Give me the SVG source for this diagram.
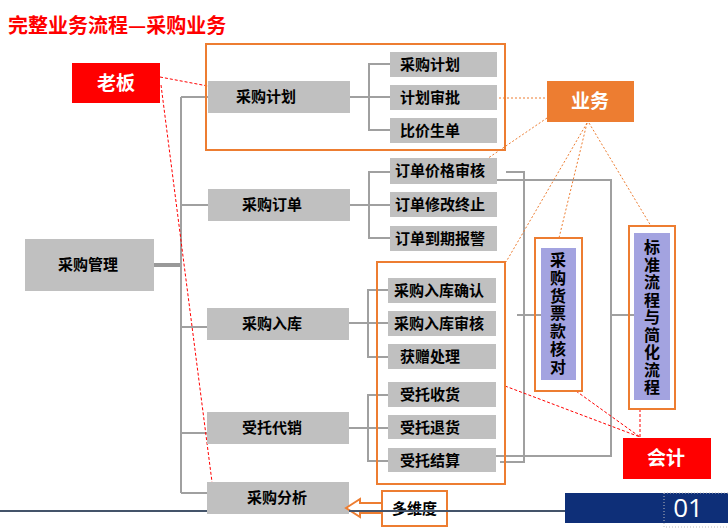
<svg xmlns="http://www.w3.org/2000/svg" width="728" height="529" viewBox="0 0 728 529">
<style>
.g{fill:#C0C0C0}
.t{font-family:"Noto Sans CJK SC","Liberation Sans",sans-serif;font-weight:bold;font-size:15px;fill:#000}
.tm{text-anchor:middle}
.w{font-family:"Noto Sans CJK SC","Liberation Sans",sans-serif;font-weight:bold;font-size:19px;fill:#fff;text-anchor:middle}
.v{font-family:"Noto Sans CJK SC","Liberation Sans",sans-serif;font-weight:bold;font-size:16px;fill:#000;writing-mode:vertical-rl}
.ob{fill:none;stroke:#ED7D31;stroke-width:2}
.ln{fill:none;stroke:#A0A0A0;stroke-width:2}
.od{fill:none;stroke:#ED7D31;stroke-width:1;stroke-dasharray:2 2}
.rd{fill:none;stroke:#FF0000;stroke-width:1;stroke-dasharray:3 2}
.pu{fill:#A3A3E0}
</style>
<rect width="728" height="529" fill="#fff"/>
<text x="8" y="33" font-family="'Noto Sans CJK SC','Liberation Sans',sans-serif" font-weight="bold" font-size="20" fill="#FF0000">完整业务流程—采购业务</text>

<g id="connectors">
  <line x1="154" y1="265" x2="182" y2="265" stroke="#999" stroke-width="4"/>
  <path class="ln" d="M181 97V493" stroke="#999" stroke-width="2.5"/>
  <path class="ln" d="M181 97H208M181 205H208M181 327H207M181 433H207M181 493H207"/>
  <path class="ln" d="M350 97H369M390 64H369V130H390M369 97H390"/>
  <path class="ln" d="M350 205H369M390 172H369V238H390M369 205H390"/>
  <path class="ln" d="M349 323H368M388 290H368V357H388M368 323H388"/>
  <path class="ln" d="M349 428H368M388 395H368V461H388M368 428H388"/>
  <path class="ln" d="M506 172H524V462H500"/>
  <path class="ln" d="M497 180H611V456H496"/>
  <path class="ln" d="M517 315H541"/>
  <path class="ln" d="M611 315H634"/>
  <path class="od" d="M499 98H547"/>
  <path class="od" d="M547 118L478 165"/>
  <path class="od" d="M587 123L506 262"/>
  <path class="od" d="M587 123L559 238"/>
  <path class="od" d="M589 123L651 226"/>
  <path class="rd" d="M160 77L213 87"/>
  <path class="rd" d="M161 85L212 482"/>
  <path class="rd" d="M505 386L640 437"/>
  <path class="rd" d="M576 391L640 437"/>
  <path class="rd" d="M640 409V437"/>
</g>

<g id="boss"><rect x="72" y="63" width="88" height="40" fill="#FF0000"/><text class="w" x="116" y="90">老板</text></g>
<g id="business"><rect x="547" y="81" width="87" height="41" fill="#ED7D31"/><text class="w" x="590" y="108">业务</text></g>
<g id="accounting"><rect x="623" y="438" width="88" height="41" fill="#FF0000"/><text class="w" x="666" y="465">会计</text></g>

<g id="plan-frame"><rect class="ob" x="206" y="44" width="299" height="106"/></g>
<g id="stock-frame"><rect class="ob" x="377" y="262" width="128" height="222"/></g>

<g id="root"><rect class="g" x="25" y="239" width="129" height="52"/><text class="t tm" x="88" y="270">采购管理</text></g>
<g id="n-plan"><rect class="g" x="208" y="81" width="142" height="32"/><text class="t tm" x="266" y="102">采购计划</text></g>
<g id="n-order"><rect class="g" x="208" y="189" width="142" height="32"/><text class="t tm" x="272" y="210">采购订单</text></g>
<g id="n-stock"><rect class="g" x="207" y="308" width="142" height="32"/><text class="t tm" x="272" y="329">采购入库</text></g>
<g id="n-consign"><rect class="g" x="207" y="412" width="142" height="32"/><text class="t tm" x="272" y="433">受托代销</text></g>
<g id="n-analysis"><rect class="g" x="207" y="482" width="142" height="32"/><text class="t tm" x="277" y="503">采购分析</text></g>

<g id="s-plan1"><rect class="g" x="390" y="52" width="107" height="25"/><text class="t" x="400" y="70">采购计划</text></g>
<g id="s-plan2"><rect class="g" x="390" y="85" width="107" height="25"/><text class="t" x="400" y="103">计划审批</text></g>
<g id="s-plan3"><rect class="g" x="390" y="118" width="107" height="25"/><text class="t" x="400" y="136">比价生单</text></g>
<g id="s-order1"><rect class="g" x="390" y="158" width="107" height="26"/><text class="t" x="395" y="176">订单价格审核</text></g>
<g id="s-order2"><rect class="g" x="390" y="192" width="107" height="25"/><text class="t" x="395" y="210">订单修改终止</text></g>
<g id="s-order3"><rect class="g" x="390" y="226" width="107" height="25"/><text class="t" x="395" y="244">订单到期报警</text></g>
<g id="s-stock1"><rect class="g" x="388" y="278" width="108" height="25"/><text class="t" x="394" y="296">采购入库确认</text></g>
<g id="s-stock2"><rect class="g" x="388" y="311" width="108" height="25"/><text class="t" x="394" y="329">采购入库审核</text></g>
<g id="s-stock3"><rect class="g" x="388" y="344" width="108" height="25"/><text class="t" x="400" y="362">获赠处理</text></g>
<g id="s-cons1"><rect class="g" x="388" y="382" width="108" height="25"/><text class="t" x="400" y="400">受托收货</text></g>
<g id="s-cons2"><rect class="g" x="388" y="415" width="108" height="24"/><text class="t" x="400" y="433">受托退货</text></g>
<g id="s-cons3"><rect class="g" x="388" y="448" width="108" height="24"/><text class="t" x="400" y="466">受托结算</text></g>

<g id="invoice">
  <rect class="ob" x="535" y="238" width="47" height="153"/>
  <rect class="pu" x="541" y="248" width="35" height="132"/>
  <text class="v" x="558" y="252" letter-spacing="1.8">采购货票款核对</text>
</g>
<g id="standard">
  <rect class="ob" x="629" y="226" width="46" height="183"/>
  <rect class="pu" x="634" y="233" width="36" height="167"/>
  <text class="v" x="652" y="239" letter-spacing="1.5">标准流程与简化流程</text>
</g>

<g id="multi">
  <polygon points="346,508 360,499 360,503 383,503 383,513 360,513 360,517" fill="#fff" stroke="#ED7D31" stroke-width="2"/>
  <rect x="382" y="491" width="65" height="35" fill="#fff" stroke="#ED7D31" stroke-width="2"/>
  <text class="t" x="392" y="514">多维度</text>
</g>

<g id="footer">
  <line x1="0" y1="511" x2="207" y2="511" stroke="#44546A" stroke-width="2"/>
  <line x1="349" y1="511" x2="565" y2="511" stroke="#44546A" stroke-width="2"/>
  <rect x="565" y="493" width="163" height="30" fill="#0E2F78"/>
  <rect x="664" y="493" width="70" height="34" fill="none" stroke="#BBBBBB" stroke-width="1" stroke-dasharray="1 2"/>
  <text x="688" y="517" font-family="'Open Sans','Liberation Sans',sans-serif" font-size="26" fill="#fff" text-anchor="middle">01</text>
</g>
</svg>
